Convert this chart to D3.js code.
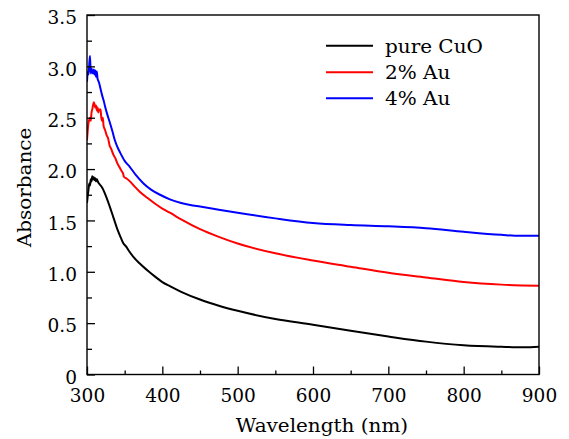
<!DOCTYPE html>
<html>
<head>
<meta charset="utf-8">
<script src="https://cdn.jsdelivr.net/npm/d3@7"></script>
<style>
  html, body { margin: 0; padding: 0; background: #fff; }
  svg { display: block; }
</style>
</head>
<body>
<svg id="chart" width="569" height="439"></svg>
<script>
// Absorption spectra (wavelength in nm, absorbance in a.u.)
const cuoWl  = [300,301,302,303,304,305,306,307,308,309,310,311,312,313,315,317,320,325,330,335,340,345,348,352,356,361,370,380,390,400,410,425,450,475,500,550,600,650,700,750,800,850,880,900];
const cuoAbs = [1.67,1.74,1.80,1.86,1.84,1.90,1.88,1.93,1.90,1.92,1.89,1.91,1.88,1.90,1.87,1.85,1.82,1.74,1.64,1.53,1.42,1.33,1.28,1.245,1.20,1.15,1.08,1.015,0.955,0.90,0.86,0.805,0.73,0.67,0.62,0.54,0.485,0.425,0.37,0.32,0.285,0.27,0.265,0.27];

const au2Wl  = [300,301,302,303,304,305,306,307,308,309,310,311,312,313,314,315,316,318,319,320,321,322,324,326,328,330,332,335,338,340,343,346,348,349,352,357,362,370,380,390,400,410,425,450,475,500,550,600,650,700,750,800,850,900];
const au2Abs = [2.28,2.38,2.45,2.48,2.50,2.47,2.55,2.58,2.62,2.65,2.63,2.60,2.62,2.57,2.60,2.55,2.58,2.58,2.50,2.47,2.50,2.42,2.38,2.33,2.30,2.23,2.20,2.14,2.10,2.06,2.02,1.98,1.955,1.925,1.91,1.88,1.84,1.78,1.72,1.665,1.615,1.575,1.51,1.415,1.34,1.275,1.18,1.11,1.05,0.99,0.945,0.90,0.875,0.865];

const au4Wl  = [300,301,302,303,304,305,306,307,308,309,310,311,312,313,314,315,316,318,320,322,324,327,330,334,337,340,344,350,357,365,375,385,397,410,425,437,450,475,500,550,600,650,700,750,800,850,875,900];
const au4Abs = [2.85,2.95,2.92,3.02,3.10,2.93,2.98,2.95,2.93,2.97,2.92,2.96,2.90,2.95,2.88,2.86,2.84,2.78,2.72,2.67,2.61,2.53,2.46,2.36,2.28,2.22,2.16,2.08,2.02,1.94,1.86,1.80,1.75,1.705,1.67,1.65,1.635,1.605,1.575,1.52,1.475,1.455,1.443,1.425,1.39,1.36,1.35,1.35];

const seriesNames  = ["pure CuO", "2% Au", "4% Au"];
const seriesColors = ["#000000", "#ff0000", "#0000ff"];

const xMajorTicks = [300,400,500,600,700,800,900];
const xMinorTicks = [350,450,550,650,750,850];
const yMajorTicks = [0,0.5,1.0,1.5,2.0,2.5,3.0,3.5];
const yMinorTicks = [0.25,0.75,1.25,1.75,2.25,2.75,3.25];

const xTitle = "Wavelength (nm)";
const yTitle = "Absorbance";

// ---- layout ----
const margin = { left: 87, top: 15, right: 30, bottom: 64.5 };
const W = 569, H = 439;
const plotW = W - margin.left - margin.right;
const plotH = H - margin.top - margin.bottom;

const FONT = "DejaVu Serif";
const fontSize = 18.5;
const wordStretch = 1.08;

const svg = d3.select("#chart");
const g = svg.append("g").attr("transform", `translate(${margin.left},${margin.top})`);

const x = d3.scaleLinear().domain([300, 900]).range([0, plotW]);
const y = d3.scaleLinear().domain([0, 3.5]).range([plotH, 0]);

// curves
const series = [
  { wl: cuoWl, abs: cuoAbs },
  { wl: au2Wl, abs: au2Abs },
  { wl: au4Wl, abs: au4Abs }
];
const line = d3.line()
  .x(d => x(d[0]))
  .y(d => y(d[1]))
  .curve(d3.curveMonotoneX);

const clip = svg.append("defs").append("clipPath").attr("id", "plotClip");
clip.append("rect").attr("width", plotW).attr("height", plotH);

g.append("g").attr("clip-path", "url(#plotClip)")
  .selectAll("path")
  .data(series)
  .join("path")
  .attr("d", s => line(s.wl.map((w, i) => [w, s.abs[i]])))
  .attr("fill", "none")
  .attr("stroke", (s, i) => seriesColors[i])
  .attr("stroke-width", 2)
  .attr("stroke-linejoin", "round");

// axes: ticks point inward
const fmtY = v => v === 0 ? "0" : d3.format(".1f")(v);

const xAxis = g.append("g").attr("transform", `translate(0,${plotH})`)
  .call(d3.axisBottom(x).tickValues(xMajorTicks).tickSize(-8).tickPadding(0).tickFormat(d3.format("d")));
const xMinor = g.append("g").attr("transform", `translate(0,${plotH})`)
  .call(d3.axisBottom(x).tickValues(xMinorTicks).tickSize(-4).tickFormat(""));

const yAxis = g.append("g")
  .call(d3.axisLeft(y).tickValues(yMajorTicks).tickSize(-8).tickPadding(0).tickFormat(fmtY));
const yMinor = g.append("g")
  .call(d3.axisLeft(y).tickValues(yMinorTicks).tickSize(-5).tickFormat(""));

[xAxis, xMinor, yAxis, yMinor].forEach(a => {
  a.attr("font-family", FONT).attr("font-size", fontSize);
  a.select(".domain").remove();
  a.selectAll("line").attr("stroke", "#000").attr("stroke-width", 1.3);
});

xAxis.selectAll("text")
  .attr("y", 27.5).attr("dy", null)
  .attr("fill", "#000");

yAxis.selectAll("text")
  .attr("x", -10)
  .attr("y", 2).attr("dy", "0.36em")
  .attr("fill", "#000");

// frame
g.append("rect")
  .attr("width", plotW).attr("height", plotH)
  .attr("fill", "none").attr("stroke", "#000").attr("stroke-width", 1.4);

// axis titles
svg.append("text")
  .attr("transform", `translate(322,432) scale(${wordStretch},1)`)
  .attr("text-anchor", "middle")
  .attr("font-family", FONT).attr("font-size", fontSize)
  .text(xTitle);

svg.append("text")
  .attr("transform", `translate(31,187.5) rotate(-90) scale(${wordStretch},1)`)
  .attr("text-anchor", "middle")
  .attr("font-family", FONT).attr("font-size", fontSize)
  .text(yTitle);

// legend
const legend = svg.append("g");
const legendY = [45.7, 72.3, 98.3];
seriesNames.forEach((name, i) => {
  legend.append("line")
    .attr("x1", 326).attr("x2", 373)
    .attr("y1", legendY[i]).attr("y2", legendY[i])
    .attr("stroke", seriesColors[i]).attr("stroke-width", 2);
  legend.append("text")
    .attr("transform", `translate(385,${legendY[i] + 7}) scale(${wordStretch},1)`)
    .attr("font-family", FONT).attr("font-size", fontSize)
    .text(name);
});
</script>
</body>
</html>
